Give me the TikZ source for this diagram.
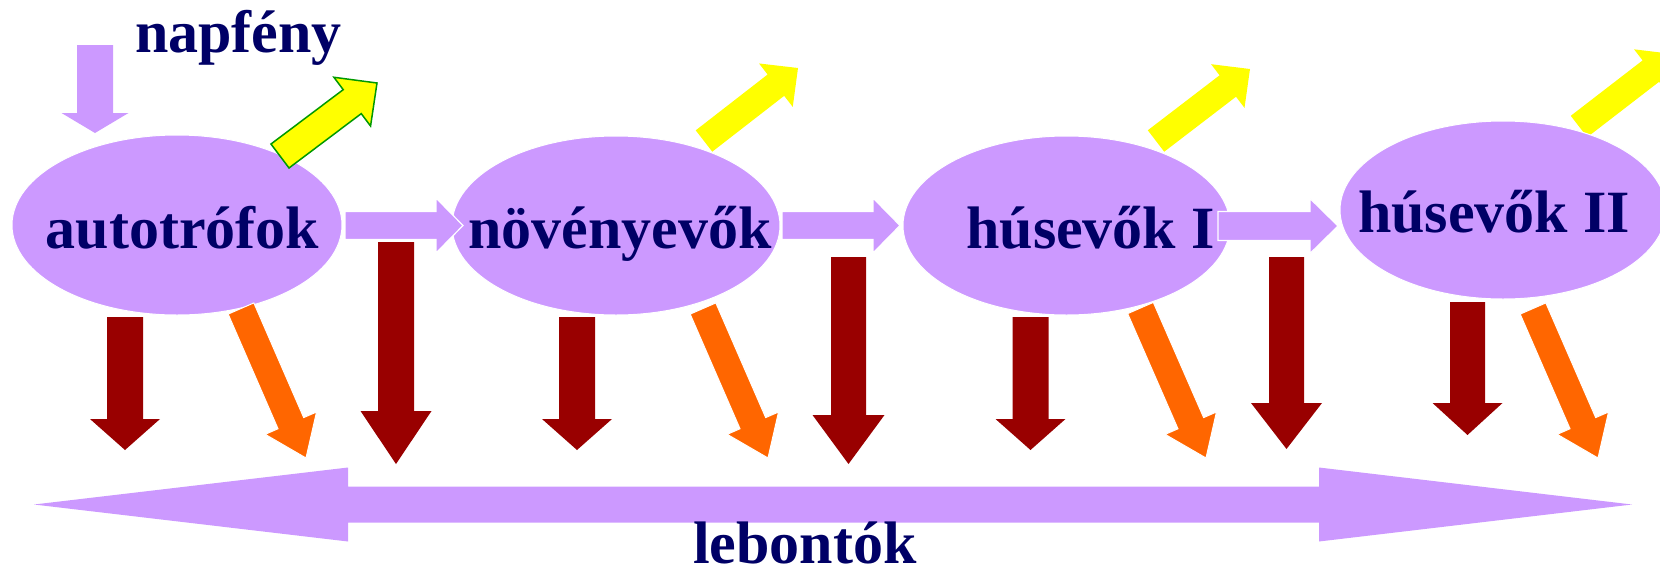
\documentclass[tikz,border=0pt]{standalone}
\usepackage{fontspec}
\setmainfont{Liberation Serif}
\usetikzlibrary{calc,shapes.geometric}
\definecolor{lav}{HTML}{CC99FF}
\definecolor{navy}{HTML}{000066}
\definecolor{dred}{HTML}{990000}
\definecolor{orng}{HTML}{FF6600}
\definecolor{yel}{HTML}{FFFF00}
\definecolor{grn}{HTML}{009900}
% #1 style, #2 tail, #3 tip, #4 half shaft width, #5 half head width, #6 head length
\newcommand\blockarr[6]{%
  \coordinate (ba-n) at ($(#3)!#6!(#2)$);
  \path[#1] ($(#2)!#4!90:(#3)$) -- ($(ba-n)!#4!90:(#3)$) -- ($(ba-n)!#5!90:(#3)$)
    -- (#3) -- ($(ba-n)!#5!-90:(#3)$) -- ($(ba-n)!#4!-90:(#3)$)
    -- ($(#2)!#4!-90:(#3)$) -- cycle;}
\tikzset{
  ell/.style={ellipse, fill=lav, draw=white, line width=1pt, inner sep=0pt,
    minimum width=330pt, minimum height=180pt},
  lbl/.style={text=navy, font=\bfseries\fontsize{60}{72}\selectfont, inner sep=0pt, anchor=base},
  yarrow/.style={fill=yel},
  yarrowg/.style={fill=yel, draw=grn, line width=1.5pt, line join=miter},
  harrow/.style={fill=lav, draw=white, line width=1.2pt},
  oarrow/.style={fill=orng, draw=white, line width=1pt},
  rarrow/.style={fill=dred},
  darrow/.style={fill=lav}
}
\begin{document}
\begin{tikzpicture}[x=1pt, y=-1pt]
\useasboundingbox (0,0) rectangle (1660,571);
\clip (0,0) rectangle (1660,571);
% coordinates
\coordinate (y2t) at (704,141);  \coordinate (y2p) at (798,68);
\coordinate (y3t) at (1156,141); \coordinate (y3p) at (1250,69);
\coordinate (y4t) at (1579,126.5); \coordinate (y4p) at (1673,54);
\coordinate (y1t) at (280,156);  \coordinate (y1p) at (377,83);
\coordinate (sunt) at (95,45);   \coordinate (sunp) at (95,133);
% yellow arrows behind ellipses 2-4
\blockarr{yarrow}{y2t}{y2p}{13.5pt}{27.5pt}{28pt}
\blockarr{yarrow}{y3t}{y3p}{13.5pt}{27.5pt}{28pt}
\blockarr{yarrow}{y4t}{y4p}{13.5pt}{27.5pt}{28pt}
% ellipses
\node[ell] (e1) at (177,225) {};
\node[ell, minimum width=328pt, minimum height=179pt] (e2) at (616,225.5) {};
\node[ell, minimum width=327pt, minimum height=179pt] (e3) at (1066.5,225.5) {};
\node[ell, minimum width=326pt, minimum height=178pt] (e4) at (1503,210) {};
% sunlight
\blockarr{darrow}{sunt}{sunp}{18pt}{33.5pt}{20pt}
\node[lbl] (sun) at (238.5,52) {napfény};
% first yellow arrow (outlined)
\blockarr{yarrowg}{y1t}{y1p}{15pt}{30.5pt}{31pt}
% labels
\node[lbl] (t1) at (182.5,248) {autotrófok};
\node[lbl] (t2) at (620,248) {növényevők};
\node[lbl] (t3) at (1090.5,248) {húsevők I};
\node[lbl] (t4) at (1494,232) {húsevők II};
% horizontal arrows between ellipses
\coordinate (h1t) at (345,225.5);  \coordinate (h1p) at (463,225.5);
\coordinate (h2t) at (782,225.5);  \coordinate (h2p) at (900,225.5);
\coordinate (h3t) at (1218,226);   \coordinate (h3p) at (1338,226);
\blockarr{harrow}{h1t}{h1p}{14pt}{27.5pt}{27pt}
\blockarr{harrow}{h2t}{h2p}{14pt}{27.5pt}{27pt}
\blockarr{harrow}{h3t}{h3p}{14.5pt}{27.5pt}{28pt}
% orange arrows
\coordinate (o1t) at (241,308.5);  \coordinate (o1p) at (306,458);
\coordinate (o2t) at (703,308.5);  \coordinate (o2p) at (768,458);
\coordinate (o3t) at (1140.5,308); \coordinate (o3p) at (1206,458);
\coordinate (o4t) at (1533,308.5); \coordinate (o4p) at (1598,458);
\blockarr{oarrow}{o1t}{o1p}{14pt}{28pt}{38pt}
\blockarr{oarrow}{o2t}{o2p}{14pt}{28pt}{38pt}
\blockarr{oarrow}{o3t}{o3p}{14pt}{28pt}{38pt}
\blockarr{oarrow}{o4t}{o4p}{14pt}{28pt}{38pt}
% dark red arrows
\coordinate (r1t) at (125,317);    \coordinate (r1p) at (125,450);
\coordinate (r2t) at (396,242);    \coordinate (r2p) at (396,464);
\coordinate (r3t) at (577,317);    \coordinate (r3p) at (577,450);
\coordinate (r4t) at (848.5,257);  \coordinate (r4p) at (848.5,464);
\coordinate (r5t) at (1030.5,317); \coordinate (r5p) at (1030.5,450);
\coordinate (r6t) at (1286.5,257); \coordinate (r6p) at (1286.5,449);
\coordinate (r7t) at (1467.5,302); \coordinate (r7p) at (1467.5,435);
\blockarr{rarrow}{r1t}{r1p}{18pt}{35pt}{31pt}
\blockarr{rarrow}{r2t}{r2p}{18pt}{35.5pt}{53pt}
\blockarr{rarrow}{r3t}{r3p}{18pt}{35pt}{31pt}
\blockarr{rarrow}{r4t}{r4p}{17.5pt}{36pt}{49pt}
\blockarr{rarrow}{r5t}{r5p}{18pt}{35pt}{31pt}
\blockarr{rarrow}{r6t}{r6p}{17.5pt}{35.5pt}{46pt}
\blockarr{rarrow}{r7t}{r7p}{17.5pt}{35pt}{32pt}
% decomposers double arrow
\coordinate (dl) at (34,504.5);
\coordinate (dr) at (1632,504.5);
\path[darrow] (dl) -- (348,467.5) -- (348,486.5) -- (1319,486.5) -- (1319,467.5)
  -- (dr) -- (1319,541.5) -- (1319,522.5) -- (348,522.5) -- (348,541.5) -- cycle;
\node[lbl, text depth=0pt] (dec) at (805,563.5) {lebontók};
\end{tikzpicture}
\end{document}
